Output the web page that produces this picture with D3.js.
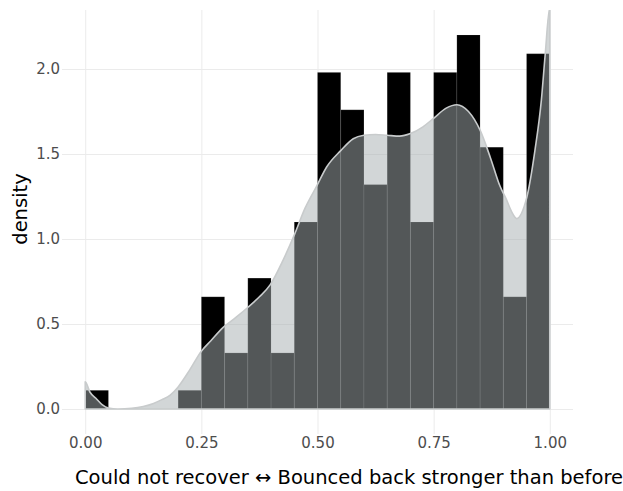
<!DOCTYPE html>
<html><head><meta charset="utf-8">
<script src="https://cdn.jsdelivr.net/npm/d3@7"></script>
<style>body{margin:0;background:#fff} svg{display:block}</style>
</head><body><svg id="c" width="623" height="491"></svg>
<script>
// ---- data ----
const binLower = [0.00,0.05,0.10,0.15,0.20,0.25,0.30,0.35,0.40,0.45,0.50,0.55,0.60,0.65,0.70,0.75,0.80,0.85,0.90,0.95];
const binUpper = [0.05,0.10,0.15,0.20,0.25,0.30,0.35,0.40,0.45,0.50,0.55,0.60,0.65,0.70,0.75,0.80,0.85,0.90,0.95,1.00];
const histDensity = [0.11,0,0,0,0.11,0.66,0.33,0.77,0.33,1.10,1.98,1.76,1.32,1.98,1.10,1.98,2.20,1.54,0.66,2.09];
const kdeX = [0,0.01,0.023,0.037,0.05,0.07,0.10,0.125,0.147,0.165,0.183,0.20,0.225,0.25,0.27,0.297,0.325,0.351,0.375,0.398,0.426,0.451,0.473,0.498,0.52,0.55,0.577,0.60,0.625,0.65,0.677,0.70,0.727,0.75,0.777,0.80,0.825,0.85,0.872,0.893,0.907,0.918,0.929,0.939,0.951,0.968,0.982,0.99,1.00];
const kdeY = [0.16,0.10,0.063,0.024,0.006,0.0,0.004,0.015,0.033,0.055,0.082,0.13,0.23,0.34,0.40,0.48,0.54,0.60,0.66,0.73,0.876,1.03,1.18,1.31,1.425,1.52,1.59,1.61,1.615,1.61,1.605,1.62,1.66,1.71,1.77,1.79,1.75,1.64,1.48,1.31,1.23,1.16,1.12,1.15,1.25,1.52,1.82,2.08,2.36];
const xTicks = [0,0.25,0.5,0.75,1];
const xTickLabels = ["0.00","0.25","0.50","0.75","1.00"];
const yTicks = [0,0.5,1,1.5,2];
const yTickLabels = ["0.0","0.5","1.0","1.5","2.0"];
const xTitle = "Could not recover \u2194 Bounced back stronger than before";
const yTitle = "density";

// ---- layout ----
const panel = {left:62, right:573, top:10, bottom:434};
const svg = d3.select("#c");
const x = d3.scaleLinear().domain([-0.05,1.05]).range([panel.left,panel.right]);
const y = d3.scaleLinear().domain([-0.147,2.347]).range([panel.bottom,panel.top]);
const font = "'DejaVu Sans', Verdana, sans-serif";

svg.append("defs").append("clipPath").attr("id","clip")
  .append("rect").attr("x",panel.left).attr("y",panel.top)
  .attr("width",panel.right-panel.left).attr("height",panel.bottom-panel.top);

// gridlines
const grid = svg.append("g");
grid.append("g").attr("transform",`translate(0,${panel.bottom})`)
  .call(d3.axisBottom(x).tickValues(xTicks).tickSize(-(panel.bottom-panel.top)).tickFormat(""))
  .call(g=>g.select(".domain").remove())
  .call(g=>g.selectAll("line").attr("stroke","#ebebeb").attr("stroke-width",1));
grid.append("g").attr("transform",`translate(${panel.left},0)`)
  .call(d3.axisLeft(y).tickValues(yTicks).tickSize(-(panel.right-panel.left)).tickFormat(""))
  .call(g=>g.select(".domain").remove())
  .call(g=>g.selectAll("line").attr("stroke","#ebebeb").attr("stroke-width",1));

const plot = svg.append("g").attr("clip-path","url(#clip)");

// histogram bars
plot.selectAll("rect.bar").data(histDensity.map((d,i)=>({lo:binLower[i],hi:binUpper[i],d})).filter(b=>b.d>0))
  .join("rect").attr("class","bar")
  .attr("x",b=>x(b.lo)).attr("width",b=>x(b.hi)-x(b.lo))
  .attr("y",b=>y(b.d)).attr("height",b=>y(0)-y(b.d))
  .attr("fill","#000").attr("stroke","rgba(255,255,255,0.1)").attr("stroke-width",1);

// density polygon
const pts = [[kdeX[0],0]].concat(kdeX.map((v,i)=>[v,kdeY[i]])).concat([[kdeX[kdeX.length-1],0]]);
const line = d3.line().x(p=>x(p[0])).y(p=>y(p[1])).curve(d3.curveMonotoneX);
plot.append("path").attr("d", line(pts)+"Z")
  .attr("fill","rgb(166,173,176)").attr("fill-opacity",0.5)
  .attr("stroke","#c8cbcc").attr("stroke-width",1.6).attr("stroke-linejoin","round");

// tick labels
const xa = svg.append("g").attr("transform",`translate(0,${panel.bottom})`)
  .call(d3.axisBottom(x).tickValues(xTicks).tickSize(0).tickPadding(3).tickFormat((d,i)=>xTickLabels[i]));
xa.select(".domain").remove();
xa.selectAll("text").attr("fill","#4d4d4d").style("font-family",font).style("font-size","15px");
const ya = svg.append("g").attr("transform",`translate(${panel.left},0)`)
  .call(d3.axisLeft(y).tickValues(yTicks).tickSize(0).tickPadding(2).tickFormat((d,i)=>yTickLabels[i]));
ya.select(".domain").remove();
ya.selectAll("text").attr("fill","#4d4d4d").style("font-family",font).style("font-size","15px");

// titles
svg.append("text").attr("x",75).attr("y",484).attr("text-anchor","start")
  .style("font-family",font).style("font-size","19.5px").attr("fill","#000").text(xTitle);
svg.append("text").attr("transform",`translate(27,209) rotate(-90)`)
  .attr("text-anchor","middle").style("font-family",font).style("font-size","19.5px").attr("fill","#000").text(yTitle);
</script></body></html>
